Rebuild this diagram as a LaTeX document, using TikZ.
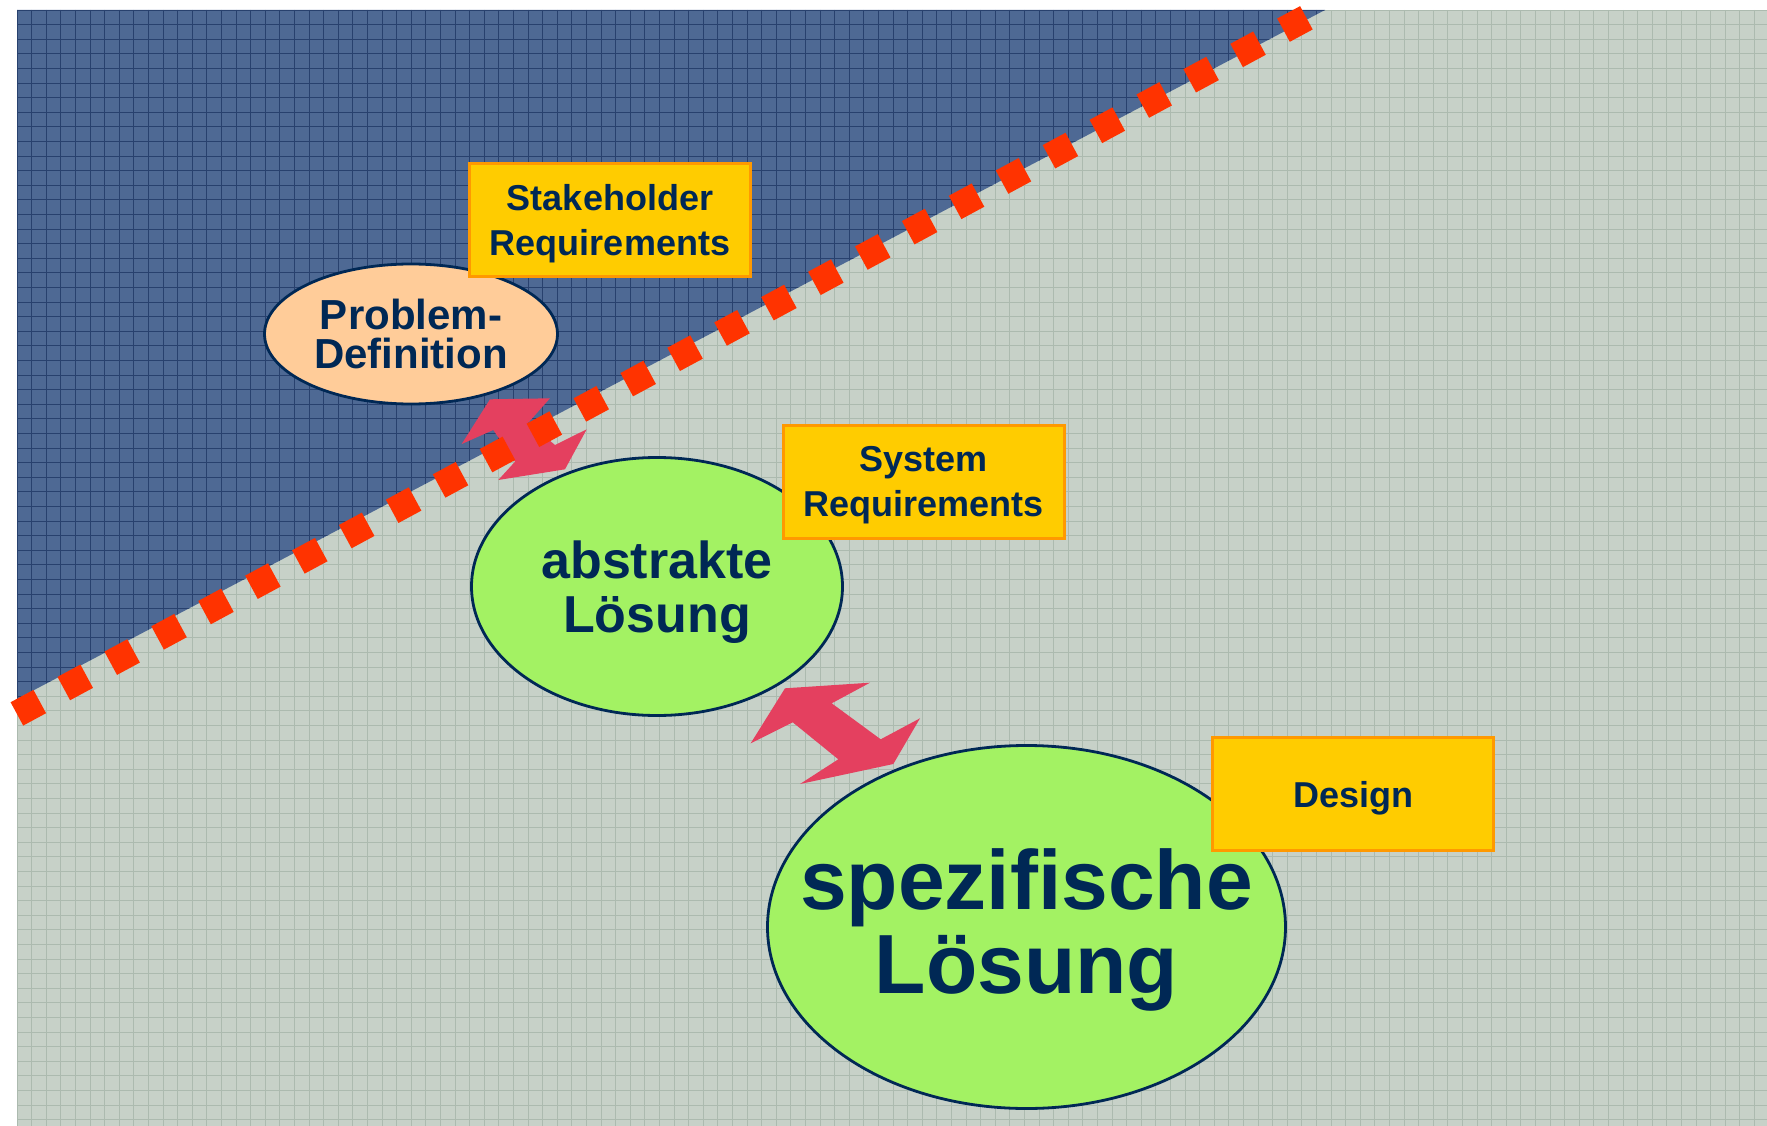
\documentclass[tikz,border=0pt]{standalone}
\usepackage{fontspec}
\setmainfont{Liberation Sans}
\usetikzlibrary{shapes.geometric}
\definecolor{navy}{RGB}{0,40,85}
\definecolor{bluebg}{RGB}{78,105,148}
\definecolor{bluegrid}{RGB}{40,65,110}
\definecolor{greybg}{RGB}{199,209,200}
\definecolor{greygrid}{RGB}{172,186,175}
\definecolor{peach}{RGB}{255,204,153}
\definecolor{lgreen}{RGB}{163,242,99}
\definecolor{boxyellow}{RGB}{255,204,0}
\definecolor{boxorange}{RGB}{255,153,0}
\definecolor{dotred}{RGB}{255,51,0}
\definecolor{arrowred}{RGB}{228,64,95}
\begin{document}
\begin{tikzpicture}[x=1pt,y=-1pt,
  ell/.style={ellipse, draw=navy, line width=2.8pt, inner sep=0pt},
  elltext/.style={inner sep=0pt, align=center, text=navy},
  req/.style={rectangle, draw=boxorange, fill=boxyellow, line width=3pt, inner sep=0pt,
    minimum width=281pt, minimum height=113pt, align=center, text=navy, text depth=0pt,
    font=\bfseries\fontsize{36}{45}\selectfont},
  dblarrow/.style={fill=arrowred, draw=none},
  boundary/.style={dotred, line width=26.5pt, dash pattern=on 26pt off 27.31pt}
]
\useasboundingbox (0,0) rectangle (1767,1126);
% background (grey-green textured area)
\fill[greybg] (17,10) rectangle (1767,1126);
\begin{scope}
  \clip (17,10) rectangle (1767,1126);
  \foreach \i in {0,...,120} \draw[greygrid, line width=0.7pt] ({17+14.6*\i},10) -- ++(0,1116);
  \foreach \j in {0,...,77} \draw[greygrid, line width=0.7pt] (17,{10+14.6*\j}) -- ++(1750,0);
\end{scope}
% blue problem area
\fill[bluebg] (17,10) -- (1325,10) -- (17,699) -- cycle;
\begin{scope}
  \clip (17,10) -- (1325,10) -- (17,699) -- cycle;
  \foreach \i in {0,...,90} \draw[bluegrid, line width=0.7pt] ({17+14.6*\i},10) -- ++(0,700);
  \foreach \j in {0,...,48} \draw[bluegrid, line width=0.7pt] (17,{10+14.6*\j}) -- ++(1320,0);
\end{scope}
% small double arrow (below the boundary)
\fill[dblarrow] (550,398.3) -- (490,399.3) -- (461.7,444) -- (493.3,430) -- (515,461.7)
  -- (498.3,480) -- (565,469.3) -- (586.7,429.3) -- (555,445) -- (528.3,422.7) -- cycle;
% boundary (red dotted line)
\coordinate (dotA) at (16.9,713.9);
\coordinate (dotB) at (1306.4,17.8);
\draw[boundary] (dotA) -- (dotB);
% big double arrow
\fill[dblarrow] (870,682.7) -- (785,688.3) -- (750.7,743.3) -- (792.7,722.3) -- (838.3,759.3)
  -- (800,784) -- (893.3,764) -- (920,718.3) -- (880.7,739.3) -- (831.7,703.3) -- cycle;
% ellipses
\node[ell, fill=peach, minimum width=293pt, minimum height=140pt] (prob) at (411,334) {};
\node[elltext, font=\bfseries\fontsize{42}{39.5}\selectfont] (probtext) at (prob.center) {Problem-\\Definition};
\node[ell, fill=lgreen, minimum width=371pt, minimum height=258pt] (abs) at (657,586.5) {};
\node[elltext, text depth=0pt, font=\bfseries\fontsize{52}{54.3}\selectfont] (abstext) at (abs.center) {abstrakte\\Lösung};
\node[ell, fill=lgreen, minimum width=518pt, minimum height=363pt] (spez) at (1026.5,927) {};
\node[elltext, font=\bfseries\fontsize{84}{83.3}\selectfont] (speztext) at ([yshift=-3pt]spez.center) {spezifische\\Lösung};
% requirement boxes
\node[req] (stake) at (610,220) {Stakeholder\\Requirements};
\node[req] (sys) at (923.9,481.7) {System\\Requirements};
\node[req] (design) at (1353.3,794) {Design};
\end{tikzpicture}
\end{document}
